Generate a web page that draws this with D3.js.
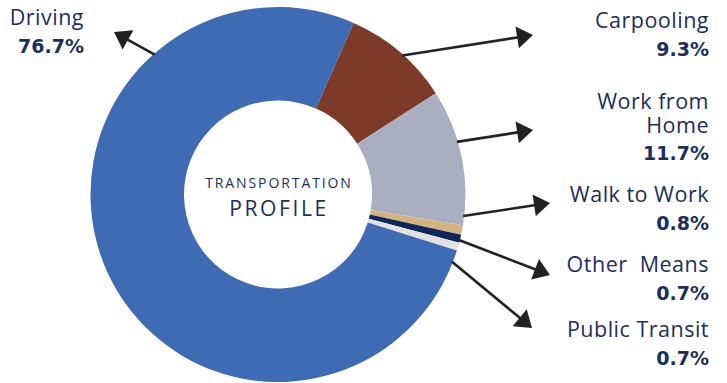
<!DOCTYPE html>
<html>
<head>
<meta charset="utf-8">
<script src="https://cdn.jsdelivr.net/npm/d3@7"></script>
<style>
  html, body { margin: 0; padding: 0; background: #ffffff; }
  svg { display: block; }
  text { white-space: pre; }
</style>
</head>
<body>
<svg id="chart" width="727" height="383"></svg>
<script>
// ---- data ----
const categories = ["Carpooling", "Work from\nHome", "Walk to Work", "Other  Means", "Public Transit", "Driving"];
const values = [9.3, 11.7, 0.8, 0.7, 0.7, 76.7];
const valueLabels = ["9.3%", "11.7%", "0.8%", "0.7%", "0.7%", "76.7%"];
const colors = ["#7d3a28", "#a9aec0", "#d4b383", "#0e2757", "#e1e1e1", "#3f6bb5"];
const centerTitle = ["TRANSPORTATION", "PROFILE"];

// ---- layout (annotation placement) ----
const cx = 278, cy = 194.5, outerR = 187.5, innerR = 94;
const startDeg = 23.8;
const arrowStartDeg = [41.8, 73.6, 96.6, 104.1, 111.1, 318.6];
const arrowTip = [[533, 35], [533, 130], [550, 203], [550, 275], [532, 328], [114, 32]];
const labelX = [709, 709, 709, 709, 709, 84];
const labelBase = [28, 108.5, 202, 272, 337, 25];
const lineGap = 24;
const valueGapFromLast = 27.5;

const svg = d3.select("#chart");
const textColor = "#1b2e5c";

const pie = d3.pie().sort(null).value(d => d)
  .startAngle(startDeg * Math.PI / 180)
  .endAngle(startDeg * Math.PI / 180 + 2 * Math.PI);
const arc = d3.arc().innerRadius(innerR).outerRadius(outerR);

const g = svg.append("g").attr("transform", `translate(${cx},${cy})`);
g.selectAll("path.slice")
  .data(pie(values))
  .join("path")
  .attr("class", "slice")
  .attr("d", arc)
  .attr("fill", (d, i) => colors[i]);

// center text
svg.append("text")
  .attr("x", cx + 1).attr("y", 188)
  .attr("text-anchor", "middle")
  .attr("font-family", "'Open Sans', sans-serif")
  .attr("font-size", 14)
  .attr("letter-spacing", "1.9px")
  .attr("fill", textColor)
  .text(centerTitle[0]);
svg.append("text")
  .attr("x", cx + 1).attr("y", 215.5)
  .attr("text-anchor", "middle")
  .attr("font-family", "'Open Sans', sans-serif")
  .attr("font-size", 21)
  .attr("letter-spacing", "2.6px")
  .attr("fill", textColor)
  .text(centerTitle[1]);

// arrows
const ag = svg.append("g");
categories.forEach((c, i) => {
  const a = arrowStartDeg[i] * Math.PI / 180;
  const x0 = cx + (outerR - 1) * Math.sin(a);
  const y0 = cy - (outerR - 1) * Math.cos(a);
  const [x1, y1] = arrowTip[i];
  const dx = x1 - x0, dy = y1 - y0;
  const len = Math.hypot(dx, dy);
  const ux = dx / len, uy = dy / len;
  const headLen = 16, headHalf = 11;
  const bx = x1 - ux * headLen, by = y1 - uy * headLen;
  ag.append("line")
    .attr("x1", x0).attr("y1", y0)
    .attr("x2", bx + ux * 2).attr("y2", by + uy * 2)
    .attr("stroke", "#222222").attr("stroke-width", 2.6);
  ag.append("path")
    .attr("d", `M${x1},${y1}L${bx - uy * headHalf},${by + ux * headHalf}L${bx + uy * headHalf},${by - ux * headHalf}Z`)
    .attr("fill", "#222222");
});

// labels
categories.forEach((c, i) => {
  const lines = c.split("\n");
  const t = svg.append("text")
    .attr("text-anchor", "end")
    .attr("font-family", "'Open Sans', sans-serif")
    .attr("font-size", 21.5)
    .attr("letter-spacing", "0.5px")
    .attr("fill", textColor);
  lines.forEach((ln, j) => {
    t.append("tspan")
      .attr("x", labelX[i])
      .attr("y", labelBase[i] + j * lineGap)
      .text(ln);
  });
  svg.append("text")
    .attr("x", labelX[i])
    .attr("y", labelBase[i] + (lines.length - 1) * lineGap + valueGapFromLast)
    .attr("text-anchor", "end")
    .attr("font-family", "'DejaVu Sans', sans-serif")
    .attr("font-weight", "bold")
    .attr("font-size", 19)
    .attr("fill", textColor)
    .text(valueLabels[i]);
});
</script>
</body>
</html>
